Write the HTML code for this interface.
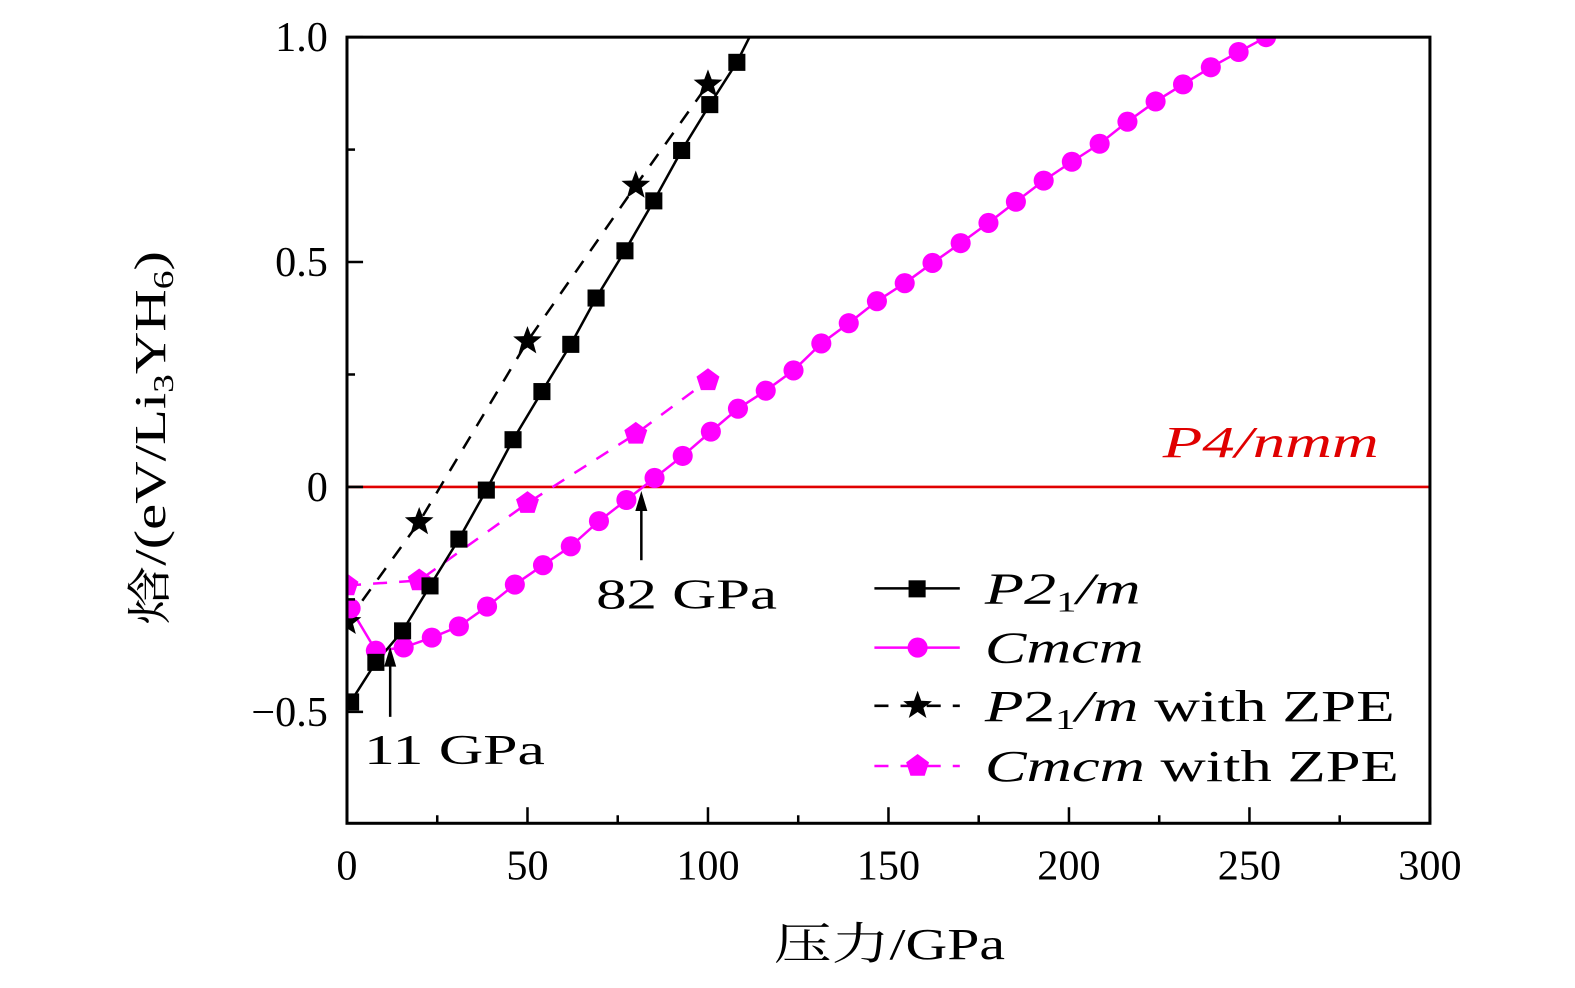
<!DOCTYPE html>
<html><head><meta charset="utf-8"><style>
html,body{margin:0;padding:0;background:#fff;overflow:hidden;width:1575px;height:984px;}
svg{display:block;position:absolute;left:0;top:0;transform-origin:0 0;transform:matrix(1.0046,0,0,1.004,0.4,0);}
text{font-family:"Liberation Serif","Noto Serif CJK SC",serif;}
</style></head><body>
<svg id="chart" width="1575" height="984" viewBox="0 0 1575 984">
<defs><clipPath id="clip"><rect x="345" y="37" width="1078" height="783"/></clipPath></defs>
<g id="marks" clip-path="url(#clip)"></g>
<g id="axes"></g>
</svg>
<script>
const p21mP=[1,8,15.4,23,31,38.6,46,54,62,69,77,85,92.7,100.5,108,114];
const p21mH=[-0.478,-0.39,-0.32,-0.22,-0.116,-0.007,0.105,0.212,0.317,0.42,0.525,0.636,0.748,0.85,0.944,1.04];
const p21mShow=15;
const cmcmP=[1,8,15.7,23.5,31,38.8,46.5,54.3,62,69.8,77.4,85.2,93,100.8,108.3,116,123.7,131.4,139,146.8,154.5,162.2,170,177.7,185.3,193,200.8,208.5,216.2,224,231.6,239.3,247,254.6];
const cmcmH=[-0.27,-0.364,-0.357,-0.335,-0.31,-0.266,-0.217,-0.174,-0.132,-0.076,-0.029,0.02,0.069,0.123,0.174,0.214,0.259,0.319,0.364,0.413,0.453,0.498,0.542,0.587,0.634,0.681,0.723,0.763,0.812,0.857,0.895,0.933,0.967,1.0];
const zpeP=[0,20,50,80,100];
const p21mZpeH=[-0.30,-0.078,0.324,0.67,0.895];
const cmcmZpeH=[-0.219,-0.208,-0.036,0.118,0.237];
const xTicks=[0,50,100,150,200,250,300];
const yTicks=[1.0,0.5,0,-0.5];
const yTickLabels=["1.0","0.5","0","\u22120.5"];

const NS="http://www.w3.org/2000/svg";
const X=v=>345+v*(1078/300);
const Y=v=>485-v*448;
const marks=document.getElementById('marks');
const axes=document.getElementById('axes');
function mk(tag,attrs,parent){const e=document.createElementNS(NS,tag);for(const k in attrs)e.setAttribute(k,attrs[k]);parent.appendChild(e);return e;}

let ref=mk('line',{x1:345,x2:1423,y1:Y(0),y2:Y(0),stroke:'#e00000','stroke-width':2.5},marks);



function poly(xs,ys,n,color,dash,name){
  const pts=[];for(let i=0;i<n;i++)pts.push(X(xs[i])+','+Y(ys[i]));
  const p=mk('polyline',{points:pts.join(' '),fill:'none',stroke:color,'stroke-width':2.5},marks);
  if(dash)p.setAttribute('stroke-dasharray',dash);
  
  
}
function star(cx,cy,r,parent){const pts=[];for(let i=0;i<10;i++){const a=-Math.PI/2+i*Math.PI/5;const rr=i%2?r*0.42:r;pts.push((cx+rr*Math.cos(a))+','+(cy+rr*Math.sin(a)));}return mk('polygon',{points:pts.join(' '),fill:'#000'},parent);}
function pent(cx,cy,r,parent){const pts=[];for(let i=0;i<5;i++){const a=-Math.PI/2+i*2*Math.PI/5;pts.push((cx+r*Math.cos(a))+','+(cy+r*Math.sin(a)));}return mk('polygon',{points:pts.join(' '),fill:'#ff00ff'},parent);}
function sq(cx,cy,s,parent){return mk('rect',{x:cx-s/2,y:cy-s/2,width:s,height:s,fill:'#000'},parent);}
function circ(cx,cy,r,parent){return mk('circle',{cx:cx,cy:cy,r:r,fill:'#ff00ff'},parent);}

poly(zpeP,cmcmZpeH,zpeP.length,'#ff00ff','14 12','cmcm-zpe-line');
poly(zpeP,p21mZpeH,zpeP.length,'#000','14 12','p21m-zpe-line');
poly(cmcmP,cmcmH,cmcmP.length,'#ff00ff',null,'cmcm-line');
poly(p21mP,p21mH,p21mP.length,'#000',null,'p21m-line');
for(let i=0;i<zpeP.length;i++){const e=pent(X(zpeP[i]),Y(cmcmZpeH[i]),12,marks);
  
  }
for(let i=0;i<zpeP.length;i++){const e=star(X(zpeP[i]),Y(p21mZpeH[i]),15,marks);
  
  }
for(let i=0;i<cmcmP.length;i++){const e=circ(X(cmcmP[i]),Y(cmcmH[i]),10,marks);
  
  }
for(let i=0;i<p21mShow;i++){const e=sq(X(p21mP[i]),Y(p21mH[i]),17,marks);
  
  }

let fr=mk('rect',{x:345,y:37,width:1078,height:783,fill:'none',stroke:'#000','stroke-width':3},axes);


for(let v=0;v<=300;v+=25){const major=v%50===0;mk('line',{x1:X(v),x2:X(v),y1:820,y2:major?804:812,stroke:'#000','stroke-width':2.5},axes);}
xTicks.forEach(v=>{const t=mk('text',{x:X(v),y:876,'font-size':42,'text-anchor':'middle'},axes);t.textContent=String(v);
  
  });
for(let v=-0.5;v<=1.0001;v+=0.25){const major=Math.abs(v*2-Math.round(v*2))<1e-6;mk('line',{x1:345,x2:major?361:353,y1:Y(v),y2:Y(v),stroke:'#000','stroke-width':2.5},axes);}
yTicks.forEach((v,i)=>{const t=mk('text',{x:326,y:Y(v)+14,'font-size':42,'text-anchor':'end'},axes);t.textContent=yTickLabels[i];
  
  });
</script>
<svg width="1575" height="984">
<text x="770" y="955" font-size="44" textLength="230" lengthAdjust="spacingAndGlyphs" font-family="Liberation Serif, Noto Serif CJK SC, serif">压力/GPa</text>
<text transform="translate(164,250) rotate(-90)" font-size="44" x="-372" textLength="372" lengthAdjust="spacingAndGlyphs" font-family="Liberation Serif, Noto Serif CJK SC, serif">焓/(eV/Li<tspan font-size="28" dy="8">3</tspan><tspan dy="-8">YH</tspan><tspan font-size="28" dy="8">6</tspan><tspan dy="-8">)</tspan></text>
<text x="1157" y="455" font-size="44" fill="#e00000" textLength="215" lengthAdjust="spacingAndGlyphs" font-style="italic" font-family="Liberation Serif, serif">P4/nmm</text>
<g><line x1="388" y1="714" x2="388" y2="660" stroke="#000" stroke-width="2.5"/><polygon points="382,664 394,664 388,644" fill="#000"/></g>
<text x="362" y="761" font-size="42" textLength="180" lengthAdjust="spacingAndGlyphs" font-family="Liberation Serif, serif">11 GPa</text>
<g><line x1="638" y1="558" x2="638" y2="505" stroke="#000" stroke-width="2.5"/><polygon points="632,509 644,509 638,489" fill="#000"/></g>
<text x="593" y="606" font-size="42" textLength="180" lengthAdjust="spacingAndGlyphs" font-family="Liberation Serif, serif">82 GPa</text>
<g font-size="44" font-family="Liberation Serif, serif">
 <g><line x1="870" x2="955" y1="586" y2="586" stroke="#000" stroke-width="2.5"/><rect x="904" y="578" width="17" height="17"/><text x="980" y="601" font-style="italic" textLength="155" lengthAdjust="spacingAndGlyphs">P2<tspan font-style="normal" font-size="28" dy="8">1</tspan><tspan dy="-8">/m</tspan></text></g>
 <g><line x1="870" x2="955" y1="645" y2="645" stroke="#ff00ff" stroke-width="2.5"/><circle cx="913" cy="645" r="10" fill="#ff00ff"/><text x="980" y="660" font-style="italic" textLength="158" lengthAdjust="spacingAndGlyphs">Cmcm</text></g>
 <g><line x1="870" x2="955" y1="703" y2="703" stroke="#000" stroke-width="2.5" stroke-dasharray="14 12"/><polygon fill="#000" points="913,688 916.6,698 927.3,698.4 918.8,705 921.8,715.2 913,709.2 904.2,715.2 907.2,705 898.7,698.4 909.4,698"/><text x="980" y="718" textLength="408" lengthAdjust="spacingAndGlyphs"><tspan font-style="italic">P</tspan>2<tspan font-size="28" dy="8">1</tspan><tspan dy="-8" font-style="italic">/m</tspan> with ZPE</text></g>
 <g><line x1="870" x2="955" y1="763" y2="763" stroke="#ff00ff" stroke-width="2.5" stroke-dasharray="14 12"/><polygon fill="#ff00ff" points="913,751 924.4,759.3 920.1,772.7 905.9,772.7 901.6,759.3"/><text x="980" y="778" textLength="412" lengthAdjust="spacingAndGlyphs"><tspan font-style="italic">Cmcm</tspan> with ZPE</text></g>
</g>
</svg>
</body></html>
